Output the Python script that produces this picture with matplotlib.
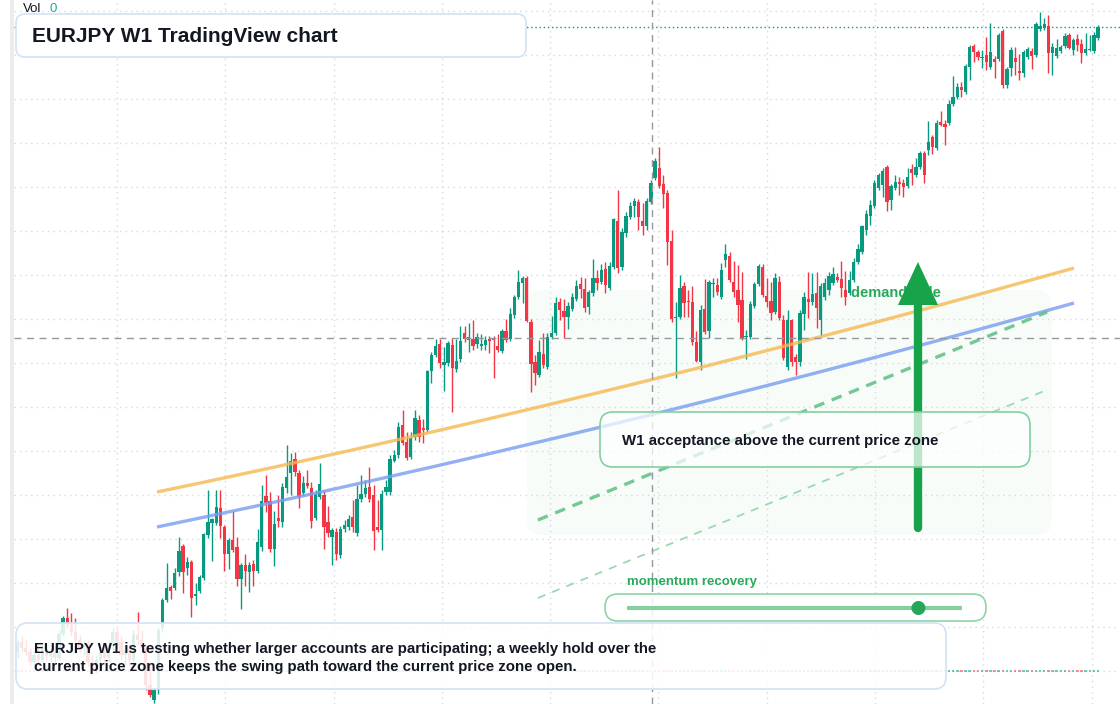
import matplotlib
matplotlib.use("Agg")
import matplotlib.pyplot as plt
import numpy as np
from matplotlib.colors import to_rgba
from matplotlib.lines import Line2D
from matplotlib.patches import Circle, FancyBboxPatch, Rectangle
from matplotlib.transforms import IdentityTransform

plt.rcParams['font.family'] = ['Liberation Sans', 'DejaVu Sans']

# EURJPY weekly candles, oldest first
opens = [109.8, 110.8, 110.2, 109.8, 108.8, 109.5, 109.0, 110.0, 109.4, 109.8,
         109.2, 111.6, 113.2, 112.5, 111.8, 111.0, 110.2, 110.6, 108.8, 108.2,
         109.0, 109.8, 109.2, 110.5, 111.8, 110.8, 109.5, 110.0, 109.0, 111.5,
         111.0, 110.2, 106.5, 105.0, 106.0, 112.2, 115.0, 116.3, 116.2, 117.8,
         120.4, 118.2, 118.8, 115.4, 115.9, 117.2, 121.5, 122.7, 122.7, 124.2,
         122.3, 119.6, 121.0, 120.3, 117.1, 118.5, 117.8, 118.6, 117.9, 120.3,
         125.4, 124.9, 120.1, 123.2, 122.8, 126.2, 127.7, 129.1, 127.7, 125.7,
         126.7, 126.2, 123.2, 125.3, 125.5, 122.8, 121.3, 121.8, 119.5, 122.1,
         122.3, 123.3, 121.7, 125.1, 125.6, 126.3, 125.5, 122.3, 122.0, 125.8,
         125.8, 128.9, 129.5, 132.5, 130.8, 129.3, 131.3, 133.0, 132.2, 132.0,
         137.9, 139.5, 140.6, 138.5, 138.7, 140.5, 138.1, 139.1, 141.7, 141.0,
         141.1, 140.6, 140.4, 140.5, 141.1, 141.2, 140.4, 139.9, 141.9, 141.1,
         143.5, 145.3, 146.7, 147.2, 142.8, 138.8, 137.5, 139.6, 138.3, 141.3,
         141.7, 144.8, 143.9, 143.3, 144.1, 145.1, 146.6, 146.1, 144.3, 145.7,
         147.2, 146.8, 148.1, 146.2, 148.3, 152.9, 148.3, 151.7, 153.3, 154.4,
         154.8, 152.9, 152.4, 154.8, 157.2, 158.2, 156.6, 155.7, 150.9, 143.2,
         143.3, 146.4, 144.9, 144.8, 140.8, 138.8, 144.1, 141.9, 146.6, 146.5,
         145.3, 149.0, 149.4, 146.8, 146.0, 145.0, 141.3, 141.3, 144.4, 146.6,
         148.3, 145.4, 144.9, 143.8, 146.8, 143.0, 138.3, 143.0, 139.3, 138.8,
         143.6, 145.1, 144.8, 145.7, 143.0, 145.3, 146.0, 146.7, 147.3, 147.1,
         146.0, 145.7, 147.0, 148.8, 149.8, 152.0, 153.4, 154.4, 156.2, 156.5,
         158.3, 155.0, 156.2, 156.8, 156.7, 156.4, 158.1, 157.5, 158.3, 159.7,
         160.0, 161.3, 160.2, 162.8, 162.6, 162.7, 164.6, 165.3, 166.3, 165.8,
         168.3, 170.4, 169.8, 169.2, 169.5, 168.3, 169.1, 169.1, 171.9, 166.5,
         168.2, 169.2, 167.9, 167.7, 169.3, 169.9, 169.5, 172.1, 172.2, 172.4,
         169.7, 169.4, 169.9, 170.4, 171.5, 170.0, 171.1, 170.6, 169.7, 170.0,
         169.9, 171.2]
highs = [111.0, 111.4, 111.0, 110.2, 110.0, 110.2, 110.5, 110.5, 110.2, 110.4,
         112.0, 113.4, 114.2, 113.7, 113.2, 111.5, 111.0, 111.0, 109.5, 109.5,
         110.2, 110.5, 111.0, 112.2, 112.4, 111.4, 110.5, 110.5, 112.0, 113.8,
         112.0, 110.5, 108.8, 106.2, 112.2, 115.2, 118.7, 116.5, 118.2, 121.3,
         120.6, 119.3, 119.0, 116.7, 117.5, 121.7, 126.0, 123.2, 126.0, 126.0,
         122.5, 121.2, 123.9, 121.3, 118.7, 119.6, 118.8, 119.0, 122.1, 126.5,
         127.5, 125.8, 123.9, 125.5, 126.7, 130.5, 129.7, 129.8, 128.0, 127.4,
         128.0, 126.8, 126.0, 128.7, 126.0, 124.4, 122.2, 122.2, 122.4, 123.0,
         123.5, 125.0, 126.5, 127.5, 127.0, 128.3, 126.5, 125.0, 126.0, 127.0,
         129.5, 130.0, 132.8, 134.0, 131.8, 131.8, 134.0, 133.5, 133.1, 138.0,
         139.8, 141.1, 141.1, 140.3, 140.9, 141.2, 141.1, 142.4, 142.4, 142.7,
         143.0, 141.7, 141.6, 141.4, 141.4, 141.4, 141.6, 142.1, 143.1, 144.2,
         145.5, 148.0, 147.4, 147.4, 143.1, 139.5, 141.0, 141.7, 141.7, 143.4,
         145.3, 145.2, 145.1, 144.8, 145.7, 147.0, 147.3, 147.2, 146.0, 149.1,
         148.0, 148.6, 148.8, 148.8, 153.2, 156.0, 152.2, 153.8, 154.8, 155.2,
         155.1, 154.7, 155.2, 157.0, 159.2, 160.3, 157.5, 156.0, 152.0, 144.8,
         147.5, 146.8, 146.0, 146.4, 141.9, 144.5, 147.1, 147.0, 147.2, 147.2,
         148.7, 150.6, 149.8, 148.9, 148.5, 147.8, 142.0, 144.9, 146.8, 148.6,
         148.6, 147.2, 146.8, 147.7, 147.4, 143.5, 144.0, 143.1, 139.6, 144.0,
         145.8, 147.8, 147.7, 147.8, 146.7, 147.2, 147.8, 148.3, 147.7, 148.9,
         147.9, 147.9, 149.2, 150.6, 152.5, 154.0, 155.0, 157.0, 157.7, 158.2,
         158.5, 156.6, 157.5, 157.3, 157.1, 158.2, 158.6, 159.2, 159.9, 159.9,
         162.9, 161.5, 163.0, 163.9, 163.0, 165.0, 167.4, 166.7, 166.8, 168.6,
         170.5, 170.6, 170.0, 170.0, 171.3, 172.7, 169.4, 171.7, 172.1, 168.3,
         170.3, 170.3, 169.6, 170.0, 170.3, 170.2, 172.8, 173.8, 173.2, 173.5,
         170.7, 171.1, 170.5, 171.7, 171.7, 171.2, 171.6, 171.1, 171.7, 171.5,
         171.8, 172.5]
lows = [109.2, 109.8, 109.5, 108.5, 108.4, 108.6, 108.8, 109.0, 108.8, 108.8,
        109.0, 111.4, 112.2, 111.4, 110.8, 109.8, 109.5, 108.4, 107.8, 107.7,
        108.6, 108.8, 108.8, 110.0, 110.2, 109.0, 108.5, 108.5, 108.8, 110.5,
        109.8, 106.0, 105.3, 104.7, 105.6, 111.8, 114.8, 115.1, 116.0, 117.4,
        115.7, 117.5, 113.3, 114.5, 115.7, 117.0, 121.2, 118.9, 122.5, 121.2,
        117.9, 118.1, 119.8, 116.4, 114.1, 116.4, 115.8, 116.4, 117.7, 119.9,
        123.8, 119.8, 118.4, 122.3, 122.3, 125.7, 125.5, 127.4, 124.2, 125.5,
        126.2, 122.2, 123.0, 125.1, 120.1, 121.3, 118.5, 119.0, 119.2, 121.8,
        122.0, 121.8, 121.4, 124.8, 125.3, 124.8, 120.0, 121.8, 120.0, 125.5,
        125.5, 128.8, 129.2, 130.5, 129.0, 129.1, 131.0, 130.8, 130.7, 131.8,
        136.7, 139.3, 138.2, 135.9, 138.4, 133.8, 137.8, 138.8, 140.8, 139.8,
        140.0, 140.2, 140.0, 140.0, 139.7, 137.2, 139.8, 139.7, 140.8, 140.9,
        143.2, 145.1, 144.7, 142.8, 135.8, 136.5, 137.3, 138.2, 138.1, 141.1,
        141.5, 143.0, 141.2, 142.1, 143.9, 144.9, 145.2, 143.8, 143.6, 145.4,
        146.0, 146.6, 145.7, 146.0, 148.1, 147.7, 148.0, 151.3, 153.1, 153.3,
        152.0, 151.5, 152.0, 154.6, 157.0, 156.2, 154.2, 148.5, 142.8, 137.2,
        143.1, 143.3, 143.3, 140.5, 138.8, 138.0, 141.6, 141.2, 145.3, 145.5,
        145.1, 148.3, 146.8, 145.3, 142.8, 141.0, 139.1, 141.1, 144.2, 146.4,
        145.3, 144.3, 143.0, 143.6, 143.0, 139.0, 138.0, 138.4, 137.5, 138.4,
        142.0, 143.2, 144.5, 142.2, 141.4, 145.0, 145.5, 146.5, 146.8, 145.3,
        144.5, 145.5, 146.8, 148.6, 149.6, 151.5, 152.5, 154.2, 156.0, 155.3,
        153.9, 154.0, 156.0, 155.5, 155.3, 156.2, 156.5, 157.3, 158.1, 156.7,
        159.5, 159.6, 160.0, 162.4, 160.5, 162.5, 164.4, 165.1, 165.3, 165.6,
        167.0, 168.8, 169.0, 168.2, 168.0, 168.1, 167.2, 168.9, 166.2, 166.2,
        167.4, 167.5, 167.0, 167.3, 169.1, 168.1, 169.3, 171.9, 172.0, 167.7,
        167.5, 169.2, 169.7, 170.2, 170.1, 169.5, 169.9, 168.7, 169.5, 169.9,
        169.7, 171.0]
closes = [110.8, 110.2, 109.8, 108.8, 109.5, 109.0, 110.0, 109.4, 109.8, 109.2,
          111.6, 113.2, 112.5, 111.8, 111.0, 110.2, 110.6, 108.8, 108.2, 109.0,
          109.8, 109.2, 110.5, 111.8, 110.8, 109.5, 110.0, 109.0, 111.5, 111.0,
          110.2, 106.5, 105.5, 106.0, 112.0, 115.0, 116.2, 115.9, 117.7, 119.9,
          117.8, 118.8, 115.2, 115.6, 117.3, 121.6, 122.8, 123.1, 124.3, 122.4,
          119.6, 121.0, 120.0, 117.1, 118.5, 117.9, 118.5, 117.9, 120.8, 124.9,
          124.7, 120.1, 122.6, 122.9, 126.3, 127.3, 128.9, 127.8, 125.3, 126.7,
          126.4, 122.9, 125.6, 126.6, 122.3, 121.7, 122.0, 119.6, 122.1, 122.5,
          123.1, 122.3, 125.1, 125.6, 126.2, 125.1, 121.9, 122.0, 125.6, 126.3,
          129.1, 129.5, 132.3, 130.7, 129.2, 131.2, 133.2, 131.3, 132.0, 137.9,
          139.5, 140.4, 138.7, 138.8, 140.7, 138.2, 138.9, 140.9, 141.1, 141.3,
          140.4, 141.3, 140.6, 141.0, 140.9, 141.0, 140.0, 141.9, 141.0, 143.6,
          145.3, 146.8, 147.2, 142.9, 138.6, 137.7, 139.8, 138.5, 141.3, 141.7,
          144.7, 144.0, 143.3, 144.4, 145.3, 146.4, 146.1, 144.2, 145.8, 147.2,
          146.7, 148.0, 146.5, 148.4, 153.1, 148.2, 151.8, 153.4, 154.4, 154.9,
          153.3, 152.4, 154.9, 156.7, 158.9, 156.4, 155.6, 150.8, 143.1, 143.3,
          146.2, 144.7, 144.8, 140.8, 138.9, 144.0, 141.8, 146.8, 146.7, 145.8,
          148.0, 149.6, 147.0, 145.8, 144.5, 141.2, 141.4, 144.6, 146.6, 148.4,
          145.5, 144.8, 143.7, 147.2, 143.2, 139.2, 143.0, 138.8, 138.8, 143.7,
          145.3, 144.8, 145.6, 144.2, 146.4, 146.7, 147.4, 147.6, 147.0, 146.2,
          145.3, 147.0, 148.8, 150.1, 152.4, 153.6, 154.5, 156.7, 157.5, 157.9,
          154.8, 156.4, 156.8, 156.6, 156.3, 157.3, 157.7, 158.3, 159.7, 157.5,
          160.8, 160.3, 162.7, 162.5, 162.3, 164.6, 165.3, 166.3, 166.0, 168.4,
          170.3, 169.8, 169.3, 169.3, 168.8, 169.8, 168.8, 171.5, 166.5, 168.1,
          170.0, 168.8, 167.7, 169.8, 170.1, 169.4, 172.6, 172.4, 172.6, 169.7,
          170.3, 170.2, 170.3, 171.4, 170.2, 171.0, 170.5, 169.7, 170.1, 170.1,
          171.5, 172.3]

# drawn levels, as (bar index, price)
orange_x = [33.7, 152.8, 255.2]
orange_y = [125.8, 137.0, 148.2]
blue_x = [33.7, 152.8, 255.2]
blue_y = [122.3, 133.5, 144.7]
dash_x = [125.7, 248.7]
dash_y = [123.0, 143.8]
thin_x = [125.7, 249.2]
thin_y = [115.2, 136.1]
arrow_x = 217.5
arrow_y = [122.2, 148.8]
cross_x = 153.3
cross_y = 141.2
momentum = 0.87

title = "EURJPY W1 TradingView chart"
w1_note = "W1 acceptance above the current price zone"
zone_label = "demand side"
momentum_label = "momentum recovery"
summary = ("EURJPY W1 is testing whether larger accounts are participating; a weekly hold over the\n"
           "current price zone keeps the swing path toward the current price zone open.")

green = '#089981'
red = '#f23645'
ink = '#131722'

W, H = 1120, 704
bar_px = 4.14      # pixels per weekly bar
bar0_px = 17.5     # pixel x of the first bar
px_price = 10.0    # pixels per yen


def bar_at(px):
    return (px - bar0_px) / bar_px


def price_at(py):
    return 175.0 - py / px_price


fig = plt.figure(figsize=(W / 100, H / 100), dpi=100)
fig.patch.set_facecolor('white')
ax = fig.add_axes([14 / W, 0, 1 - 14 / W, 1])
ax.set_xlim(bar_at(14), bar_at(W))
ax.set_ylim(price_at(H), price_at(0))
ax.axis('off')

# dotted grid
for k in range(10):
    ax.axvline(bar_at(117 + 108.3 * k), color='#d5d8df', lw=1, linestyle=(0, (1, 3)), zorder=1)
for k in range(16):
    ax.axhline(price_at(11 + 44 * k), color='#d5d8df', lw=1, linestyle=(0, (1, 3)), zorder=1)


def box(x0, y0, x1, y1, r, fc, ec, lw=1.0, z=10, target=None):
    p = FancyBboxPatch((x0, H - y1), x1 - x0, y1 - y0,
                       boxstyle=f"round,pad=0,rounding_size={r}",
                       transform=IdentityTransform(), facecolor=fc, edgecolor=ec,
                       lw=lw, zorder=z)
    if target is None:
        fig.add_artist(p)
    else:
        target.add_patch(p)


# light demand zone behind the candles
box(527, 290, 1052, 535, 16, '#f7fcf8', 'none', lw=0, z=0.5, target=ax)

o, h, l, c = map(np.array, (opens, highs, lows, closes))
idx = np.arange(len(c))
colors = np.where(c >= o, green, red)

# volume (tiny bars)
ax.bar(idx, 0.15, bottom=price_at(672), width=0.6, color=colors, alpha=0.55, lw=0, zorder=2)

# candles
ax.vlines(idx, l, h, colors=colors, lw=1, zorder=3)
ax.bar(idx, np.maximum(np.abs(c - o), 0.12), bottom=np.minimum(o, c), width=0.8,
       color=colors, lw=0, zorder=4)

# last price line
ax.axhline(c[-1], color=green, lw=1, linestyle=(0, (1, 2)), zorder=2)

# trend lines
xs = np.linspace(orange_x[0], orange_x[-1], 200)
ax.plot(xs, np.polyval(np.polyfit(orange_x, orange_y, 2), xs), color='#f6b84f',
        lw=2.4, alpha=0.8, solid_capstyle='butt', zorder=5)
xs = np.linspace(blue_x[0], blue_x[-1], 200)
ax.plot(xs, np.polyval(np.polyfit(blue_x, blue_y, 2), xs), color='#789df0',
        lw=2.4, alpha=0.8, solid_capstyle='butt', zorder=5)
ax.plot(dash_x, dash_y, color='#5dbf84', lw=2.4, alpha=0.85, dashes=(3.2, 2.4), zorder=5)
ax.plot(thin_x, thin_y, color='#9bd9b1', lw=1.3, dashes=(4.5, 4), zorder=5)

# crosshair
ax.axvline(cross_x, color='#9598a1', lw=1, dashes=(5, 4), zorder=5)
ax.axhline(cross_y, color='#9598a1', lw=1, dashes=(5, 4), zorder=5)

# demand side label and arrow
ax.text(bar_at(851), price_at(293), zone_label, color='#2aa85c', fontsize=10.5,
        fontweight='bold', va='center', ha='left', zorder=6)
head_base = arrow_y[1] - 43 / px_price
half = 20 / bar_px
ax.plot([arrow_x, arrow_x], [arrow_y[0], head_base + 0.5], color='#16a34a', lw=6,
        solid_capstyle='round', zorder=7)
ax.fill([arrow_x - half, arrow_x + half, arrow_x], [head_base, head_base, arrow_y[1]],
        color='#16a34a', lw=0, zorder=7)

# gray strip on the left
fig.add_artist(Rectangle((10, 0), 4, H, transform=IdentityTransform(),
                         facecolor='#ececec', edgecolor='none', zorder=1))

# title
box(16, 14, 526, 57, 9, 'white', '#d3e2f7', lw=1.2)
fig.text(32 / W, 1 - 36 / H, title, fontsize=15, fontweight='bold', color=ink,
         va='center', ha='left', zorder=12)
fig.text(23 / W, 1 - 9 / H, 'Vol', fontsize=9.5, color=ink, va='center', zorder=12)
fig.text(49 / W, 1 - 9 / H, '0', fontsize=9.5, color='#26a69a', va='center', zorder=12)

# W1 note
box(600, 412, 1030, 467, 13, to_rgba('white', 0.72), '#86cf9e', lw=1.2)
fig.text(622 / W, 1 - 441 / H, w1_note, fontsize=10.8, fontweight='bold', color=ink,
         va='center', ha='left', zorder=12)

# momentum slider
box(605, 594, 986, 621, 13, to_rgba('white', 0.85), '#8fd4a6', lw=1.2)
fig.text(627 / W, 1 - 582 / H, momentum_label, fontsize=9.5, fontweight='bold',
         color='#2aa85c', va='center', ha='left', zorder=12)
fig.add_artist(Line2D([627, 962], [H - 608, H - 608], transform=IdentityTransform(),
                      color='#86cf9f', lw=3, solid_capstyle='butt', zorder=12))
knob = 627 + momentum * (962 - 627)
fig.add_artist(Circle((knob, H - 608), 7, transform=IdentityTransform(),
                      facecolor='#27a55a', edgecolor='none', zorder=13))

# summary
box(16, 623, 946, 689, 12, to_rgba('white', 0.86), '#d3e2f7', lw=1.2)
fig.text(34 / W, 1 - 658 / H, summary, fontsize=10.8, fontweight='bold', color=ink,
         va='center', ha='left', linespacing=1.35, zorder=12)

fig.savefig('out.png', dpi=100)
